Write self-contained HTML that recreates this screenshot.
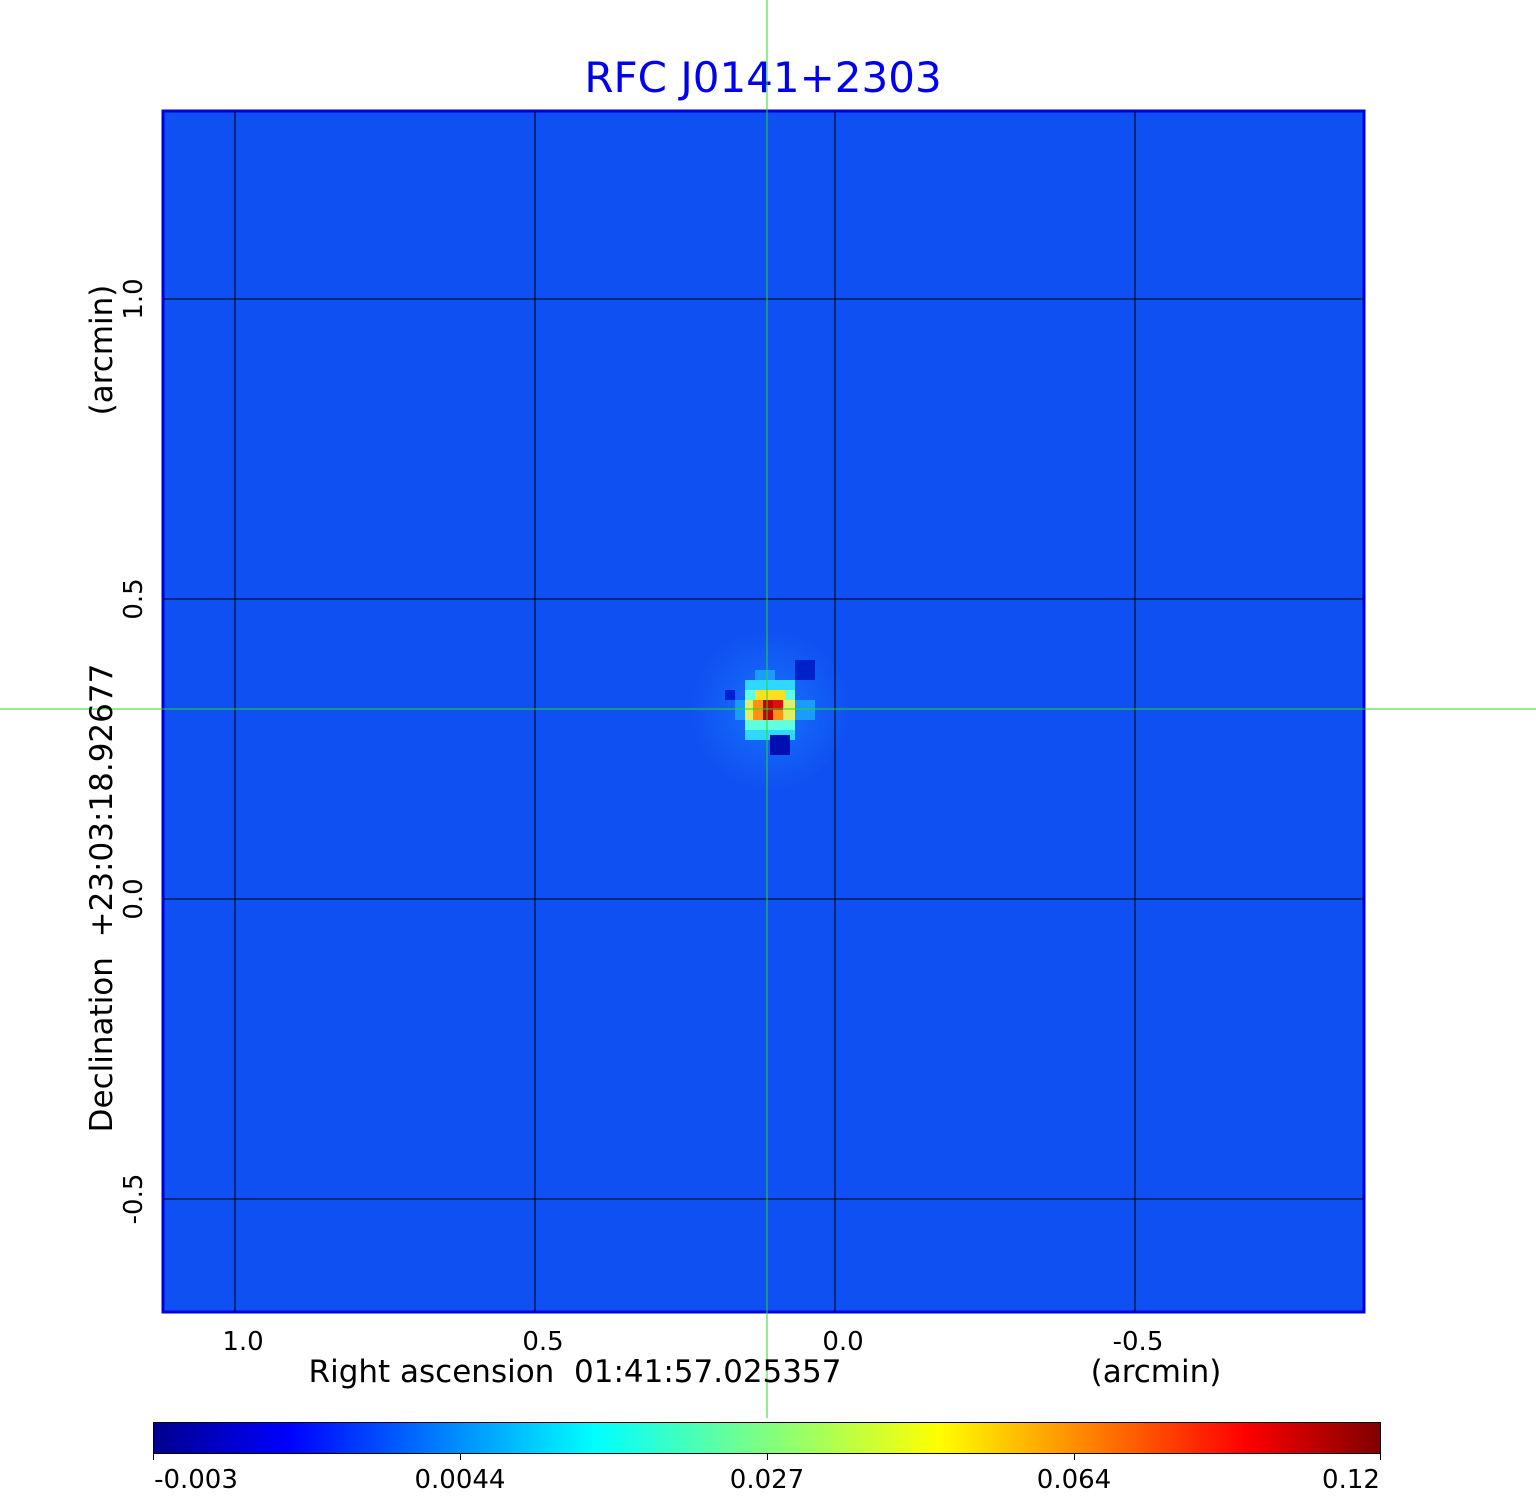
<!DOCTYPE html>
<html><head><meta charset="utf-8"><style>
body{margin:0;background:#fff;}
svg{display:block;font-family:"DejaVu Sans","Liberation Sans",sans-serif;}
text{white-space:pre;}
</style></head><body>
<svg width="1536" height="1511" xmlns="http://www.w3.org/2000/svg">
<defs>
<linearGradient id="jet" x1="0" x2="1" y1="0" y2="0">
<stop offset="0" stop-color="#00008f"/>
<stop offset="0.11" stop-color="#0000ff"/>
<stop offset="0.36" stop-color="#00ffff"/>
<stop offset="0.5" stop-color="#80ff80"/>
<stop offset="0.64" stop-color="#ffff00"/>
<stop offset="0.89" stop-color="#ff0000"/>
<stop offset="1" stop-color="#800000"/>
</linearGradient>
<radialGradient id="glow" cx="0.5" cy="0.5" r="0.5">
<stop offset="0" stop-color="#1a7cff" stop-opacity="0.8"/>
<stop offset="1" stop-color="#1a7cff" stop-opacity="0"/>
</radialGradient>
</defs>
<text x="763" y="92" font-size="42" fill="#0000ee" text-anchor="middle">RFC J0141+2303</text>
<rect x="163" y="111" width="1201" height="1201" fill="#0f50f2" stroke="#0000dd" stroke-width="3"/>
<rect x="690" y="630" width="160" height="160" fill="url(#glow)"/>
<g>
<rect x="735" y="700" width="80" height="20" fill="#1a9cff"/>
<rect x="745" y="680" width="50" height="60" fill="#2fd8ff"/>
<rect x="755" y="670" width="20" height="10" fill="#1a9cff"/>
<rect x="745" y="690" width="50" height="40" fill="#60ffe0"/>
<rect x="745" y="700" width="50" height="20" fill="#e0f060"/>
<rect x="755" y="690" width="30" height="10" fill="#ffe020"/>
<rect x="753" y="700" width="30" height="20" fill="#ff9010"/>
<rect x="763" y="700" width="20" height="10" fill="#dd1010"/>
<rect x="763" y="700" width="10" height="20" fill="#c00000"/>
<rect x="725" y="690" width="10" height="10" fill="#0020d0"/>
<rect x="795" y="660" width="20" height="20" fill="#0020c8"/>
<rect x="770" y="735" width="20" height="20" fill="#0010b0"/>
</g>
<g stroke="#000" stroke-width="1">
<line x1="235" y1="112" x2="235" y2="1311"/><line x1="535" y1="112" x2="535" y2="1311"/>
<line x1="835" y1="112" x2="835" y2="1311"/><line x1="1135" y1="112" x2="1135" y2="1311"/>
<line x1="164" y1="299" x2="1363" y2="299"/><line x1="164" y1="599" x2="1363" y2="599"/>
<line x1="164" y1="899" x2="1363" y2="899"/><line x1="164" y1="1199" x2="1363" y2="1199"/>
</g>
<line x1="767" y1="0" x2="767" y2="1418" stroke="#22dd22" stroke-width="1"/>
<line x1="0" y1="709" x2="1536" y2="709" stroke="#22dd22" stroke-width="1"/>
<g font-size="26" fill="#000" text-anchor="middle">
<text x="243" y="1350">1.0</text><text x="543" y="1350">0.5</text>
<text x="843" y="1350">0.0</text><text x="1138" y="1350">-0.5</text>
<text x="575" y="1382" font-size="31">Right ascension&#160;&#160;01:41:57.025357</text>
<text x="1156" y="1382" font-size="31">(arcmin)</text>
<g transform="rotate(-90)" >
<text x="-299" y="142">1.0</text><text x="-599" y="142">0.5</text>
<text x="-899" y="142">0.0</text><text x="-1199" y="142">-0.5</text>
<text x="-898" y="112" font-size="31">Declination&#160;&#160;+23:03:18.92677</text>
<text x="-350" y="112" font-size="31">(arcmin)</text>
</g>
</g>
<rect x="153.5" y="1422.5" width="1227" height="31" fill="url(#jet)" stroke="#000" stroke-width="1"/>
<g stroke="#000"><line x1="153.5" y1="1454" x2="153.5" y2="1460"/><line x1="460.5" y1="1454" x2="460.5" y2="1460"/><line x1="767.5" y1="1454" x2="767.5" y2="1460"/><line x1="1074.5" y1="1454" x2="1074.5" y2="1460"/><line x1="1380.5" y1="1454" x2="1380.5" y2="1460"/></g>
<g font-size="26" fill="#000" text-anchor="middle">
<text x="196" y="1488">-0.003</text><text x="460" y="1488">0.0044</text>
<text x="767" y="1488">0.027</text><text x="1074" y="1488">0.064</text><text x="1351" y="1488">0.12</text>
</g>
</svg>
</body></html>
